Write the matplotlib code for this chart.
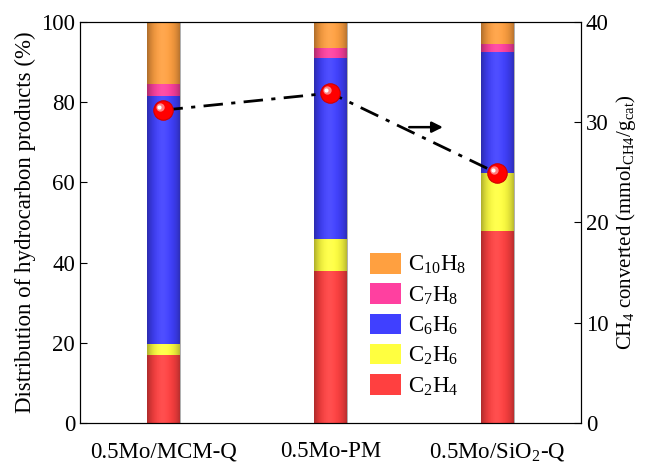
import numpy as np
import matplotlib.pyplot as plt
from matplotlib.patches import Rectangle

plt.rcParams['font.family'] = ['Liberation Serif', 'DejaVu Serif']
plt.rcParams['mathtext.fontset'] = 'custom'
plt.rcParams['mathtext.rm'] = 'Liberation Serif'
plt.rcParams['mathtext.it'] = 'Liberation Serif'

catalysts = ['0.5Mo/MCM-Q', '0.5Mo-PM', '0.5Mo/SiO$_2$-Q']
c2h4 = [16.9, 38.0, 47.9]
c2h6 = [2.7, 7.9, 14.4]
c6h6 = [61.8, 45.2, 30.3]
c7h8 = [3.2, 2.4, 1.9]
c10h8 = [15.4, 6.5, 5.5]
ch4_conv = [31.2, 32.9, 24.9]

species = ['C$_2$H$_4$', 'C$_2$H$_6$', 'C$_6$H$_6$', 'C$_7$H$_8$', 'C$_{10}$H$_8$']
colors = ['#ff4040', '#ffff40', '#4040ff', '#ff40a0', '#ffa040']

fs = 16.5
fig = plt.figure(figsize=(6.52, 4.65), dpi=100)
ax = fig.add_axes([0.1227, 0.0903, 0.7683, 0.8627])
ax2 = ax.twinx()

x = np.arange(len(catalysts))
w = 0.2
bottom = np.zeros(len(catalysts))
handles = []
for vals, lab, col in zip([c2h4, c2h6, c6h6, c7h8, c10h8], species, colors):
    b = ax.bar(x, vals, w, bottom=bottom, color=col, label=lab, zorder=2)
    handles.append(b)
    bottom += np.array(vals)

# cylinder-like shading over each bar
u = np.linspace(-1, 1, 64)
shade = np.zeros((1, 64, 4))
shade[0, :, 3] = 0.32 * np.abs(u) ** 2.5
hl = np.zeros((1, 64, 4))
hl[0, :, :3] = 1.0
hl[0, :, 3] = 0.08 * np.exp(-((u + 0.1) / 0.4) ** 2)
for xi, top in zip(x, bottom):
    clip = Rectangle((xi - w / 2, 0), w, top, transform=ax.transData)
    for img in (shade, hl):
        im = ax.imshow(img, extent=[xi - w / 2, xi + w / 2, 0, top],
                       aspect='auto', zorder=3, interpolation='bilinear')
        im.set_clip_path(clip)

ax.set_xlim(-0.5, 2.5)
ax.set_ylim(0, 100)
ax.set_xticks(x)
ax.set_xticklabels(catalysts)
ax.set_yticks(range(0, 101, 20))
ax.set_ylabel('Distribution of hydrocarbon products (%)', fontsize=fs, labelpad=4)
ax.tick_params(direction='in', labelsize=fs, length=5)
ax.tick_params(axis='x', pad=13)

ax2.plot(x, ch4_conv, color='black', lw=2, ls=(0, (7, 3, 1.5, 3)), zorder=4)
ax2.plot(x, ch4_conv, 'o', ms=14, color='#ff0000', mec='#d00000', mew=0.8, zorder=5)
ax2.plot(x - 0.02, np.array(ch4_conv) + 0.3, 'o', ms=6, color='#ff8080', mew=0, zorder=6)
ax2.plot(x - 0.025, np.array(ch4_conv) + 0.35, 'o', ms=3, color='white', mew=0, zorder=7)
ax2.annotate('', xy=(1.69, 29.5), xytext=(1.455, 29.5),
             arrowprops=dict(arrowstyle='-|>', color='black', lw=1.8, mutation_scale=16))
ax2.set_ylim(0, 40)
ax2.set_yticks(range(0, 41, 10))
ax2.set_ylabel('CH$_4$ converted (mmol$_{\\mathrm{CH4}}$/g$_{\\mathrm{cat}}$)', fontsize=15)
ax2.tick_params(direction='in', labelsize=fs, length=5)
ax.set_zorder(ax2.get_zorder() - 1)
ax.patch.set_visible(True)
ax2.patch.set_visible(False)

ax.legend(handles[::-1], species[::-1], loc='upper left', bbox_to_anchor=(0.538, 0.475),
          frameon=False, fontsize=fs, handlelength=1.35, handleheight=1.0,
          labelspacing=0.3, handletextpad=0.3)

fig.savefig('out.png', dpi=100)
